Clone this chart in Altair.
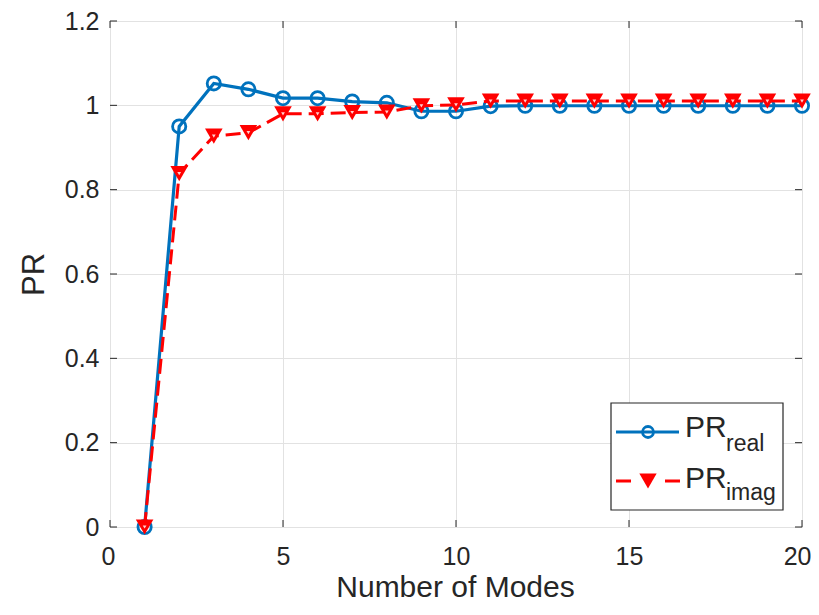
import altair as alt
import pandas as pd

# ---- data ----
modes = list(range(1, 21))
pr_real = [0.0, 0.95, 1.052, 1.038, 1.017, 1.017, 1.009, 1.006, 0.986, 0.986,
           0.998, 0.999, 0.999, 0.999, 0.999, 0.999, 0.999, 0.999, 0.999, 0.999]
pr_imag = [0.0, 0.838, 0.927, 0.935, 0.980, 0.980, 0.983, 0.984, 0.999, 1.001,
           1.010, 1.010, 1.010, 1.010, 1.010, 1.010, 1.010, 1.010, 1.010, 1.010]
x_ticks = [0, 5, 10, 15, 20]
y_ticks = [0, 0.2, 0.4, 0.6, 0.8, 1.0, 1.2]
legend_labels = ["PR", "PR"]
legend_subs = ["real", "imag"]

W, H = 692, 506
FONT = "Liberation Sans"
BLUE = "#0072BD"
RED = "#FF0000"
DARK = "#262626"
GRID = "#e2e2e2"

df = pd.DataFrame({"modes": modes, "real": pr_real, "imag": pr_imag})
df_xt = pd.DataFrame({"t": x_ticks})
df_yt = pd.DataFrame({"t": y_ticks})
one = pd.DataFrame({"k": [0]})

xscale = alt.Scale(domain=[0, 20], nice=False, zero=False)
yscale = alt.Scale(domain=[0, 1.2], nice=False, zero=False)

x_axis = alt.Axis(values=x_ticks, format="~g", grid=True, gridColor=GRID, gridWidth=1,
                  domain=False, ticks=False, tickSize=0,
                  labelFlush=True, labelFlushOffset=9,
                  labelFont=FONT, labelFontSize=25, labelColor=DARK,
                  labelPadding=37, labelBaseline="alphabetic",
                  title="Number of Modes", titleFont=FONT, titleFontSize=30,
                  titleFontWeight="normal", titleColor=DARK,
                  titleX=345, titleY=69, titleBaseline="alphabetic")
y_axis = alt.Axis(values=y_ticks, format="~g", grid=True, gridColor=GRID, gridWidth=1,
                  domain=False, ticks=False, tickSize=0, labelFlush=False,
                  labelFont=FONT, labelFontSize=25, labelColor=DARK,
                  labelPadding=11,
                  title="PR", titleFont=FONT, titleFontSize=31,
                  titleFontWeight="normal", titleColor=DARK,
                  titleX=-67, titleY=H / 2, titleAngle=-90,
                  titleBaseline="alphabetic", titleAlign="center")

X = alt.X("modes:Q", scale=xscale, axis=x_axis)
YR = alt.Y("real:Q", scale=yscale, axis=y_axis)
YI = alt.Y("imag:Q", scale=yscale, axis=y_axis)

base = alt.Chart(df)
real_line = base.mark_line(color=BLUE, strokeWidth=3.2).encode(x=X, y=YR)
real_pts = base.mark_point(shape="circle", size=175, filled=False,
                           strokeWidth=2.8, color=BLUE, opacity=1).encode(x=X, y=YR)
imag_line = base.mark_line(color=RED, strokeWidth=3, strokeDash=[15, 7]).encode(x=X, y=YI)
imag_pts = base.mark_point(shape="triangle-down", size=310, filled=True,
                           color=RED, opacity=1).encode(x=X, y=YI)
imag_dot = base.mark_point(shape="triangle-down", size=14, filled=True,
                           color="#ffd0d0", opacity=1).encode(x=X, y=YI)

# inward ticks on all four sides (MATLAB box style)
TL = 7
xt_b = alt.Chart(df_xt).mark_rule(color=DARK, strokeWidth=1).encode(
    x=alt.X("t:Q", scale=xscale, axis=x_axis), y=alt.value(H), y2=alt.value(H - TL))
xt_t = alt.Chart(df_xt).mark_rule(color=DARK, strokeWidth=1).encode(
    x=alt.X("t:Q", scale=xscale, axis=x_axis), y=alt.value(0), y2=alt.value(TL))
yt_l = alt.Chart(df_yt).mark_rule(color=DARK, strokeWidth=1).encode(
    y=alt.Y("t:Q", scale=yscale, axis=y_axis), x=alt.value(0), x2=alt.value(TL))
yt_r = alt.Chart(df_yt).mark_rule(color=DARK, strokeWidth=1).encode(
    y=alt.Y("t:Q", scale=yscale, axis=y_axis), x=alt.value(W - TL), x2=alt.value(W))

# legend box (MATLAB-style, with subscripts)
lg = alt.Chart(one)
lg_box = lg.mark_rect(fill="white", stroke=DARK, strokeWidth=1.2).encode(
    x=alt.value(501), x2=alt.value(673), y=alt.value(382), y2=alt.value(489))
lg_l1 = lg.mark_rule(color=BLUE, strokeWidth=3.2).encode(
    x=alt.value(506), x2=alt.value(569), y=alt.value(411))
lg_p1 = lg.mark_point(shape="circle", size=120, filled=False, strokeWidth=2.8,
                      color=BLUE, opacity=1).encode(x=alt.value(538), y=alt.value(411))
lg_l2 = lg.mark_rule(color=RED, strokeWidth=3, strokeDash=[15, 34]).encode(
    x=alt.value(506), x2=alt.value(570), y=alt.value(460))
lg_p2 = lg.mark_point(shape="triangle-down", size=300, filled=True,
                      color=RED, opacity=1).encode(x=alt.value(538), y=alt.value(460))
txt = dict(font=FONT, color=DARK, align="left", baseline="alphabetic")
lg_t1 = lg.mark_text(fontSize=30, **txt).encode(
    x=alt.value(575), y=alt.value(416), text=alt.value(legend_labels[0]))
lg_s1 = lg.mark_text(fontSize=23, **txt).encode(
    x=alt.value(616), y=alt.value(430), text=alt.value(legend_subs[0]))
lg_t2 = lg.mark_text(fontSize=30, **txt).encode(
    x=alt.value(575), y=alt.value(467), text=alt.value(legend_labels[1]))
lg_s2 = lg.mark_text(fontSize=23, **txt).encode(
    x=alt.value(616), y=alt.value(479), text=alt.value(legend_subs[1]))

chart = alt.layer(
    xt_b, xt_t, yt_l, yt_r,
    real_line, real_pts, imag_line, imag_pts, imag_dot,
    lg_box, lg_l1, lg_p1, lg_l2, lg_p2, lg_t1, lg_s1, lg_t2, lg_s2,
).properties(
    width=W, height=H,
    autosize=alt.AutoSizeParams(type="none"),
    padding={"left": 102, "top": 13, "right": 9, "bottom": 80},
).configure_view(stroke=DARK, strokeWidth=1.2).configure(background="white")

chart.save("out.html", embed_options={"renderer": "svg", "actions": False})
